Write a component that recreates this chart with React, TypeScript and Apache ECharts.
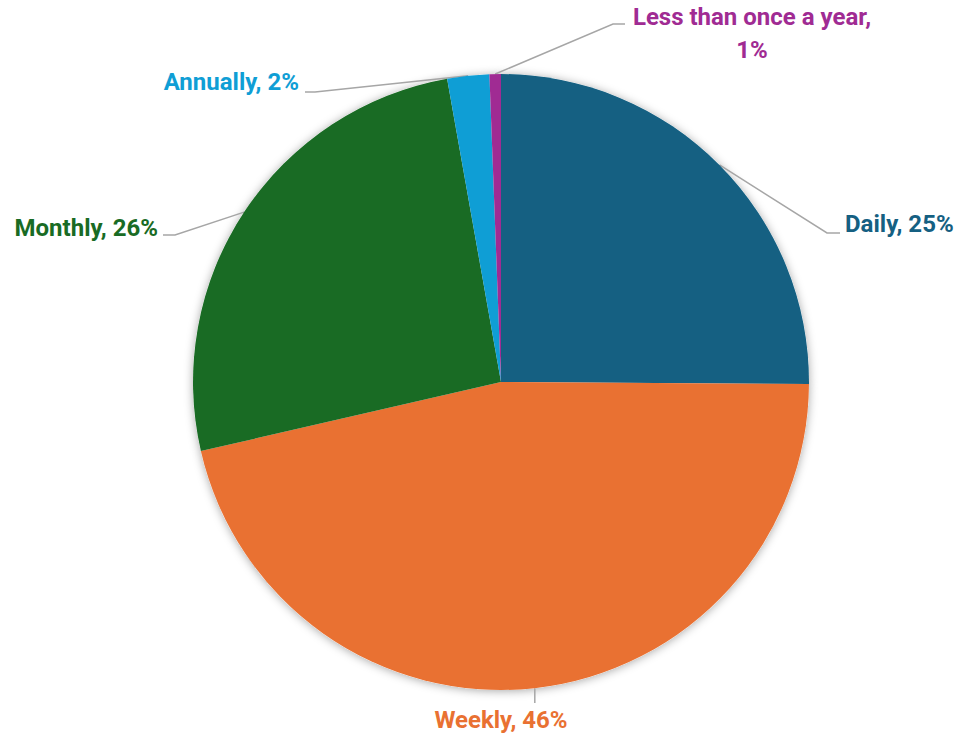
import React, { useEffect, useRef } from 'react';
import * as echarts from 'echarts';

const categories = ['Daily', 'Weekly', 'Monthly', 'Annually', 'Less than once a year'];
const values = [25.1, 46.3, 25.8, 2.2, 0.6];
const colors = ['#156082', '#E97132', '#196B24', '#0F9ED5', '#A02B93'];

// label placement (layout only): label anchor, alignment, leader-line elbow and end
const labelPlacement: any[] = [
  { x: 845, y: 224, align: 'left', elbow: [827, 233], end: [840, 233] },
  { x: 501, y: 720, align: 'center', elbow: null, endY: 703 },
  { x: 158, y: 228, align: 'right', elbow: [175, 235], end: [163, 235] },
  { x: 299, y: 82, align: 'right', elbow: [315, 92], end: [305, 92] },
  { x: 752, y: 33, align: 'center', elbow: [613, 24], end: [625, 24] },
];

export default function App() {
  const ref = useRef<HTMLDivElement>(null);
  useEffect(() => {
    if (!ref.current) return;
    const chart = echarts.init(ref.current, undefined, { renderer: 'svg' });
    const data = categories.map((name, i) => ({
      name,
      value: values[i],
      itemStyle: { color: colors[i] },
      label: { color: colors[i] },
    }));
    chart.setOption({
      animation: false,
      backgroundColor: '#ffffff',
      series: [
        {
          type: 'pie',
          z: 1,
          silent: true,
          center: [501, 382],
          radius: 308,
          startAngle: 90,
          clockwise: true,
          data: categories.map((name, i) => ({ name, value: values[i] })),
          itemStyle: {
            color: '#ffffff',
            shadowBlur: 10,
            shadowColor: 'rgba(0,0,0,0.35)',
            shadowOffsetX: 0,
            shadowOffsetY: 1,
          },
          label: { show: false },
          labelLine: { show: false },
          emphasis: { disabled: true },
        },
        {
          type: 'pie',
          z: 2,
          center: [501, 382],
          radius: 308,
          startAngle: 90,
          clockwise: true,
          avoidLabelOverlap: false,
          data,
          itemStyle: { borderWidth: 0 },
          label: {
            show: true,
            position: 'outside',
            fontFamily: 'Roboto',
            fontWeight: 'bold',
            fontSize: 24,
            lineHeight: 33,
            formatter: (p: any) => {
              const pct = Math.round(p.percent) + '%';
              return p.name.length > 15 ? `${p.name},\n${pct}` : `${p.name}, ${pct}`;
            },
          },
          labelLine: {
            show: true,
            length: 20,
            length2: 10,
            lineStyle: { color: '#a6a6a6', width: 1.5 },
          },
          labelLayout: (params: any) => {
            const lp = labelPlacement[params.dataIndex];
            const p0 = params.labelLinePoints ? params.labelLinePoints[0] : null;
            let pts: number[][] | undefined;
            if (p0) {
              if (lp.elbow) {
                pts = [p0, lp.elbow, lp.end];
              } else {
                pts = [p0, [p0[0], (p0[1] + lp.endY) / 2], [p0[0], lp.endY]];
              }
            }
            return {
              x: lp.x,
              y: lp.y,
              align: lp.align,
              verticalAlign: 'middle',
              labelLinePoints: pts,
            };
          },
          emphasis: { disabled: true },
        },
      ],
    });
    return () => chart.dispose();
  }, []);
  return (
    <div
      ref={ref}
      style={{ position: 'fixed', left: 0, top: 0, width: 964, height: 740 }}
    />
  );
}
